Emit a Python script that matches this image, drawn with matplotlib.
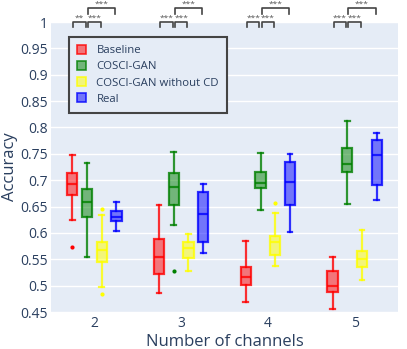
import matplotlib.pyplot as plt
from matplotlib.patches import Patch
from matplotlib.colors import to_rgba

# x categories
channels = ["2", "3", "4", "5"]
methods = ["Baseline", "COSCI-GAN", "COSCI-GAN without CD", "Real"]
colors = ["red", "green", "yellow", "blue"]

# box stats per method, one value per channel count
# whislo, q1, median, q3, whishi
baseline_stats = [
    [0.624, 0.671, 0.692, 0.713, 0.748],
    [0.486, 0.523, 0.555, 0.588, 0.652],
    [0.469, 0.502, 0.517, 0.535, 0.584],
    [0.455, 0.488, 0.500, 0.528, 0.555],
]
cosci_stats = [
    [0.555, 0.630, 0.658, 0.683, 0.732],
    [0.615, 0.652, 0.687, 0.713, 0.754],
    [0.644, 0.686, 0.694, 0.715, 0.752],
    [0.654, 0.715, 0.731, 0.761, 0.813],
]
nocd_stats = [
    [0.497, 0.545, 0.567, 0.583, 0.634],
    [0.528, 0.552, 0.571, 0.582, 0.598],
    [0.538, 0.559, 0.582, 0.595, 0.638],
    [0.510, 0.535, 0.550, 0.566, 0.605],
]
real_stats = [
    [0.603, 0.622, 0.630, 0.641, 0.659],
    [0.562, 0.582, 0.635, 0.677, 0.693],
    [0.601, 0.652, 0.696, 0.734, 0.749],
    [0.662, 0.691, 0.748, 0.776, 0.789],
]
baseline_fliers = [[0.574], [], [], []]
cosci_fliers = [[], [0.528], [], []]
nocd_fliers = [[0.645, 0.484], [], [0.657], []]
real_fliers = [[], [], [], []]

# significance marks per channel count: (pair, label)
sig_pairs = [(0, 1), (1, 2), (1, 3)]
sig_labels = [
    ["**", "***", "***"],
    ["***", "***", "***"],
    ["***", "***", "***"],
    ["***", "***", "***"],
]

yticks = [0.45, 0.5, 0.55, 0.6, 0.65, 0.7, 0.75, 0.8, 0.85, 0.9, 0.95, 1]
ytick_labels = ["0.45", "0.5", "0.55", "0.6", "0.65", "0.7", "0.75",
                "0.8", "0.85", "0.9", "0.95", "1"]

plt.rcParams["font.family"] = ["Open Sans", "DejaVu Sans"]
text_color = "#2a3f5f"
bg = "#e5ecf6"

fig = plt.figure(figsize=(4.07, 3.49), dpi=100)
ax = fig.add_axes([51 / 407, 1 - 312 / 349, 347 / 407, 290 / 349])
ax.set_facecolor(bg)
for s in ax.spines.values():
    s.set_visible(False)

offsets = [-0.255, -0.085, 0.085, 0.255]
all_stats = [baseline_stats, cosci_stats, nocd_stats, real_stats]
all_fliers = [baseline_fliers, cosci_fliers, nocd_fliers, real_fliers]

for m, (st, fl, col) in enumerate(zip(all_stats, all_fliers, colors)):
    stats = []
    for vals, f in zip(st, fl):
        lo, q1, med, q3, hi = vals
        stats.append(dict(whislo=lo, q1=q1, med=med, q3=q3, whishi=hi, fliers=f))
    pos = [i + offsets[m] for i in range(len(channels))]
    edge = to_rgba(col, 0.8)
    ax.bxp(stats, positions=pos, widths=0.12, capwidths=0.055,
           patch_artist=True, manage_ticks=False,
           boxprops=dict(facecolor=to_rgba(col, 0.5), edgecolor=edge, linewidth=1.6),
           medianprops=dict(color=edge, linewidth=1.6),
           whiskerprops=dict(color=edge, linewidth=1.6),
           capprops=dict(color=edge, linewidth=1.6),
           flierprops=dict(marker="o", markersize=3, markerfacecolor=col,
                           markeredgecolor="none"),
           zorder=3)

# significance brackets above the plot
for i, labels in enumerate(sig_labels):
    for k, ((a, b), lab) in enumerate(zip(sig_pairs, labels)):
        x1 = i + offsets[a] + 0.012
        x2 = i + offsets[b] - 0.012
        if k < 2:
            ytop, ybot = 0.9995, 0.990
        else:
            ytop, ybot = 1.026, 1.015
        ax.plot([x1, x1, x2, x2], [ybot, ytop, ytop, ybot], color="#444444",
                linewidth=1.2, clip_on=False, zorder=4)
        ax.text((x1 + x2) / 2, ytop + 0.001, lab, ha="center", va="bottom",
                fontsize=6, color="#555555", clip_on=False)

ax.set_xlim(-0.5, len(channels) - 0.5)
ax.set_ylim(0.45, 1.0)
ax.set_xticks(range(len(channels)))
ax.set_xticklabels(channels)
ax.set_yticks(yticks)
ax.set_yticklabels(ytick_labels)
ax.tick_params(length=0, labelsize=10, colors=text_color, pad=3)
ax.tick_params(axis="y", pad=2)
ax.yaxis.grid(True, color="white", linewidth=1)
ax.set_axisbelow(True)

ax.set_xlabel("Number of channels", fontsize=12, color=text_color, labelpad=2)
ax.set_ylabel("Accuracy", fontsize=12, color=text_color, labelpad=2)

handles = [Patch(facecolor=to_rgba(c, 0.5), edgecolor=to_rgba(c, 0.8), linewidth=1.2)
           for c in colors]
leg = ax.legend(handles, methods, loc="upper left", bbox_to_anchor=(0.052, 0.948),
                borderaxespad=0, fontsize=8.2, handlelength=0.8, handleheight=0.8,
                handletextpad=0.9, labelspacing=0.42, borderpad=0.7,
                fancybox=False, framealpha=1)
leg.get_frame().set_facecolor(bg)
leg.get_frame().set_edgecolor("#444444")
leg.get_frame().set_linewidth(1.5)
for t in leg.get_texts():
    t.set_color(text_color)

fig.savefig("out.png", dpi=100)
